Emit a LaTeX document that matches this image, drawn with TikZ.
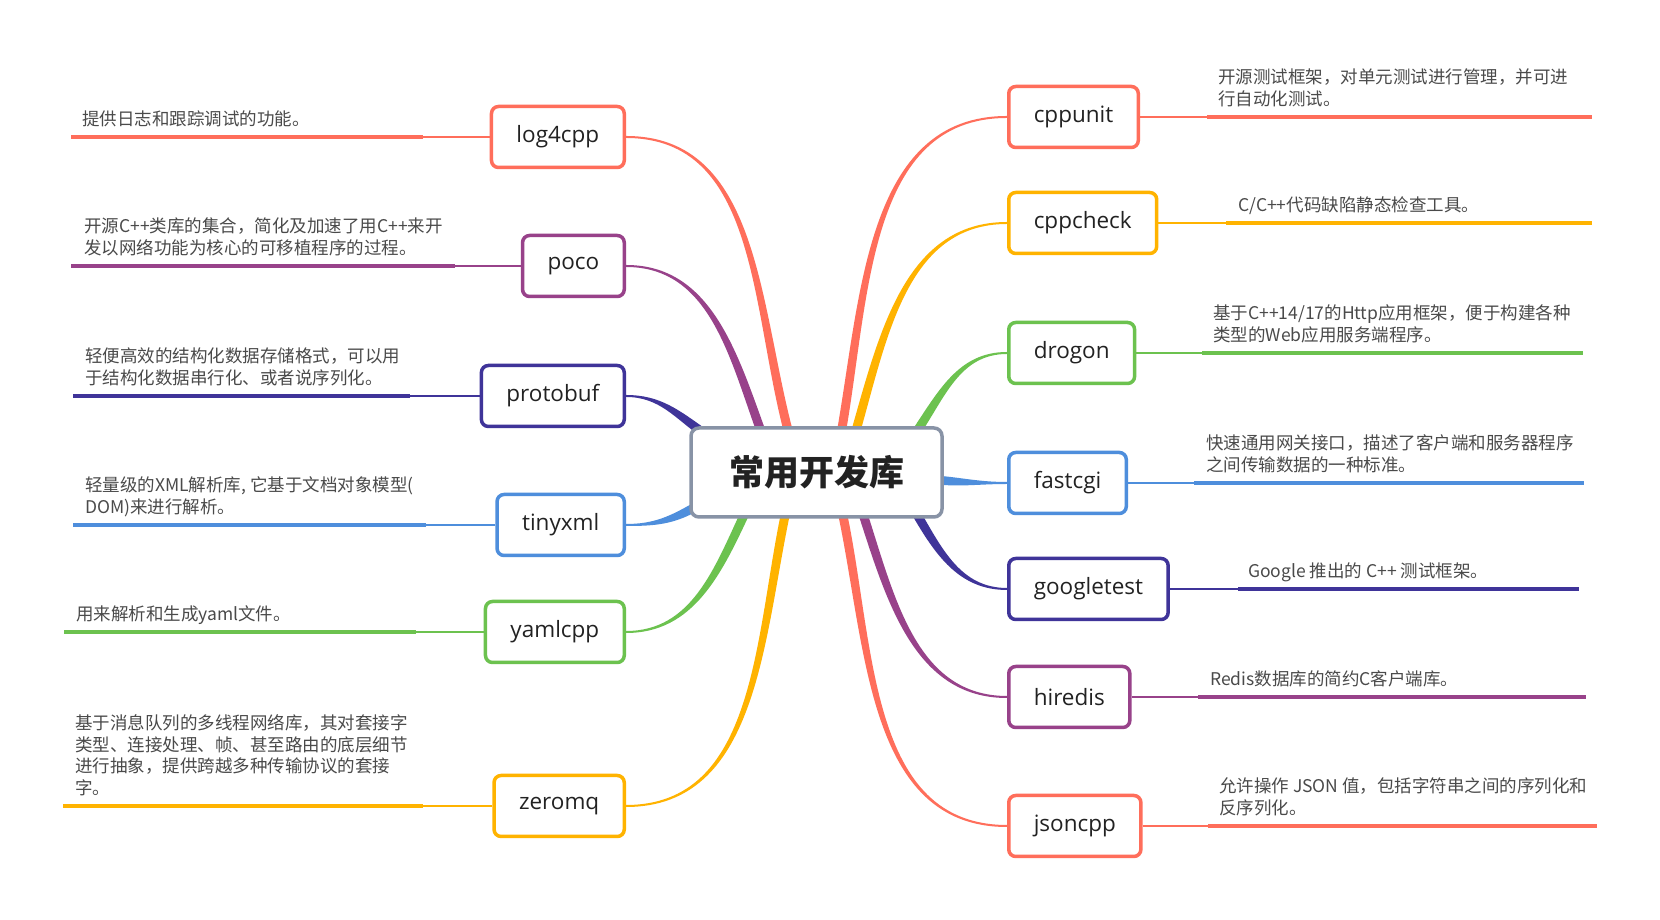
\documentclass[tikz,border=0pt]{standalone}
\usepackage{fontspec}
\usetikzlibrary{calc,backgrounds}

\newfontfamily\cjk{Noto Sans CJK SC}
\newfontfamily\labelfont{Open Sans}

\definecolor{mmred}{HTML}{FF6E5B}
\definecolor{mmorange}{HTML}{FFB300}
\definecolor{mmgreen}{HTML}{6CC24F}
\definecolor{mmblue}{HTML}{4E8EDC}
\definecolor{mmnavy}{HTML}{3F3499}
\definecolor{mmpurple}{HTML}{98428A}
\definecolor{mmgray}{HTML}{8893A6}
\definecolor{mmtext}{HTML}{222222}
\definecolor{mmdesc}{HTML}{4A4A4A}

% tapered branch: colour, start, out angle, end node anchor, in angle
\newcommand{\branch}[5]{%
  \fill[#1] ($(#2)+(#3+90:4.5pt)$) to[out=#3,in=#5] ($(#4)+(#5-90:1pt)$)
    -- ($(#4)+(#5+90:1pt)$) to[out=#5,in=#3] ($(#2)+(#3-90:4.5pt)$) -- cycle;}

\tikzset{
  topic/.style={draw=#1, line width=3.5pt, rounded corners=7pt, fill=white,
    minimum height=61pt, inner xsep=25pt, text=mmtext,
    font=\labelfont\fontsize{22.5}{26}\selectfont},
  root/.style={draw=mmgray, line width=3.5pt, rounded corners=8pt, fill=white,
    minimum width=251pt, minimum height=89pt, text=mmtext,
    font=\cjk\bfseries\fontsize{35}{40}\selectfont},
  desc/.style={anchor=south west, inner sep=0pt, align=left, text depth=0pt,
    text=mmdesc, font=\cjk\fontsize{17.5}{21.5}\selectfont},
  thinline/.style={line width=2pt},
  thickline/.style={line width=3.5pt}
}

\begin{document}
\begin{tikzpicture}[x=1pt, y=1pt]
  \useasboundingbox (0,0) rectangle (1660,920);

  % Root
  \node[root] (root) at (816.5,447.5) {常用开发库};

  % Left topics
  \node[topic=mmred, anchor=east] (log4cpp) at (626,783) {log4cpp};
  \node[topic=mmpurple, anchor=east] (poco) at (626,654) {poco};
  \node[topic=mmnavy, anchor=east] (protobuf) at (626,524) {protobuf};
  \node[topic=mmblue, anchor=east] (tinyxml) at (626,395) {tinyxml};
  \node[topic=mmgreen, anchor=east] (yamlcpp) at (626,288) {yamlcpp};
  \node[topic=mmorange, anchor=east] (zeromq) at (626,114) {zeromq};

  % Right topics
  \node[topic=mmred, anchor=west] (cppunit) at (1007,803) {cppunit};
  \node[topic=mmorange, anchor=west] (cppcheck) at (1007,697) {cppcheck};
  \node[topic=mmgreen, anchor=west] (drogon) at (1007,567) {drogon};
  \node[topic=mmblue, anchor=west] (fastcgi) at (1007,437) {fastcgi};
  \node[topic=mmnavy, anchor=west] (googletest) at (1007,331) {googletest};
  \node[topic=mmpurple, anchor=west] (hiredis) at (1007,223) {hiredis};
  \node[topic=mmred, anchor=west] (jsoncpp) at (1007,94) {jsoncpp};

  % Descriptions, left
  \node[desc] (log4cpp-d) at (82,794.5) {提供日志和跟踪调试的功能。};
  \node[desc] (poco-d) at (84,665.5) {开源C++类库的集合，简化及加速了用C++来开\\发以网络功能为核心的可移植程序的过程。};
  \node[desc] (protobuf-d) at (85,535.5) {轻便高效的结构化数据存储格式，可以用\\于结构化数据串行化、或者说序列化。};
  \node[desc] (tinyxml-d) at (85,406.5) {轻量级的XML解析库, 它基于文档对象模型(\\DOM)来进行解析。};
  \node[desc] (yamlcpp-d) at (76,299.5) {用来解析和生成yaml文件。};
  \node[desc] (zeromq-d) at (75,125.5) {基于消息队列的多线程网络库，其对套接字\\类型、连接处理、帧、甚至路由的底层细节\\进行抽象，提供跨越多种传输协议的套接\\字。};

  % Descriptions, right
  \node[desc] (cppunit-d) at (1218,814.5) {开源测试框架，对单元测试进行管理，并可进\\行自动化测试。};
  \node[desc] (cppcheck-d) at (1238,708.5) {C/C++代码缺陷静态检查工具。};
  \node[desc] (drogon-d) at (1213,578.5) {基于C++14/17的Http应用框架，便于构建各种\\类型的Web应用服务端程序。};
  \node[desc] (fastcgi-d) at (1206,448.5) {快速通用网关接口，描述了客户端和服务器程序\\之间传输数据的一种标准。};
  \node[desc] (googletest-d) at (1248,342.5) {Google 推出的 C++ 测试框架。};
  \node[desc] (hiredis-d) at (1210,234.5) {Redis数据库的简约C客户端库。};
  \node[desc] (jsoncpp-d) at (1219,105.5) {允许操作 JSON 值，包括字符串之间的序列化和\\反序列化。};

  % Branch start points under the root
  \coordinate (log4cpp-s) at (789,486);
  \coordinate (poco-s) at (762,486);
  \coordinate (protobuf-s) at (705,486);
  \coordinate (tinyxml-s) at (697,414);
  \coordinate (yamlcpp-s) at (746,409);
  \coordinate (zeromq-s) at (786,409);
  \coordinate (cppunit-s) at (841,486);
  \coordinate (cppcheck-s) at (855,486);
  \coordinate (drogon-s) at (915,486);
  \coordinate (fastcgi-s) at (936,440);
  \coordinate (googletest-s) at (915,409);
  \coordinate (hiredis-s) at (862,409);
  \coordinate (jsoncpp-s) at (842,409);

  % Underline ends
  \coordinate (log4cpp-k) at (423,783);   \coordinate (log4cpp-e) at (71,783);
  \coordinate (poco-k) at (455,654);      \coordinate (poco-e) at (71,654);
  \coordinate (protobuf-k) at (410,524);  \coordinate (protobuf-e) at (73,524);
  \coordinate (tinyxml-k) at (426,395);   \coordinate (tinyxml-e) at (73,395);
  \coordinate (yamlcpp-k) at (416,288);   \coordinate (yamlcpp-e) at (64,288);
  \coordinate (zeromq-k) at (423,114);    \coordinate (zeromq-e) at (63,114);
  \coordinate (cppunit-k) at (1207,803);  \coordinate (cppunit-e) at (1592,803);
  \coordinate (cppcheck-k) at (1226,697); \coordinate (cppcheck-e) at (1592,697);
  \coordinate (drogon-k) at (1202,567);   \coordinate (drogon-e) at (1583,567);
  \coordinate (fastcgi-k) at (1194,437);  \coordinate (fastcgi-e) at (1584,437);
  \coordinate (googletest-k) at (1238,331); \coordinate (googletest-e) at (1579,331);
  \coordinate (hiredis-k) at (1198,223);  \coordinate (hiredis-e) at (1586,223);
  \coordinate (jsoncpp-k) at (1208,94);   \coordinate (jsoncpp-e) at (1597,94);

  \begin{pgfonlayer}{background}
    \fill[white] (0,0) rectangle (1660,920);

    % Branches to the left
    \branch{mmred}{log4cpp-s}{105}{log4cpp.east}{0}
    \branch{mmpurple}{poco-s}{110}{poco.east}{0}
    \branch{mmnavy}{protobuf-s}{145}{protobuf.east}{0}
    \branch{mmblue}{tinyxml-s}{210}{tinyxml.east}{0}
    \branch{mmgreen}{yamlcpp-s}{245}{yamlcpp.east}{0}
    \branch{mmorange}{zeromq-s}{258}{zeromq.east}{0}

    % Branches to the right
    \branch{mmred}{cppunit-s}{80}{cppunit.west}{180}
    \branch{mmorange}{cppcheck-s}{74}{cppcheck.west}{180}
    \branch{mmgreen}{drogon-s}{56}{drogon.west}{180}
    \branch{mmblue}{fastcgi-s}{-5}{fastcgi.west}{180}
    \branch{mmnavy}{googletest-s}{-60}{googletest.west}{180}
    \branch{mmpurple}{hiredis-s}{-72}{hiredis.west}{180}
    \branch{mmred}{jsoncpp-s}{-78}{jsoncpp.west}{180}

    % Underlines
    \draw[thinline, mmred] (log4cpp.west) -- (log4cpp-k);
    \draw[thickline, mmred] (log4cpp-k) -- (log4cpp-e);
    \draw[thinline, mmpurple] (poco.west) -- (poco-k);
    \draw[thickline, mmpurple] (poco-k) -- (poco-e);
    \draw[thinline, mmnavy] (protobuf.west) -- (protobuf-k);
    \draw[thickline, mmnavy] (protobuf-k) -- (protobuf-e);
    \draw[thinline, mmblue] (tinyxml.west) -- (tinyxml-k);
    \draw[thickline, mmblue] (tinyxml-k) -- (tinyxml-e);
    \draw[thinline, mmgreen] (yamlcpp.west) -- (yamlcpp-k);
    \draw[thickline, mmgreen] (yamlcpp-k) -- (yamlcpp-e);
    \draw[thinline, mmorange] (zeromq.west) -- (zeromq-k);
    \draw[thickline, mmorange] (zeromq-k) -- (zeromq-e);

    \draw[thinline, mmred] (cppunit.east) -- (cppunit-k);
    \draw[thickline, mmred] (cppunit-k) -- (cppunit-e);
    \draw[thinline, mmorange] (cppcheck.east) -- (cppcheck-k);
    \draw[thickline, mmorange] (cppcheck-k) -- (cppcheck-e);
    \draw[thinline, mmgreen] (drogon.east) -- (drogon-k);
    \draw[thickline, mmgreen] (drogon-k) -- (drogon-e);
    \draw[thinline, mmblue] (fastcgi.east) -- (fastcgi-k);
    \draw[thickline, mmblue] (fastcgi-k) -- (fastcgi-e);
    \draw[thinline, mmnavy] (googletest.east) -- (googletest-k);
    \draw[thickline, mmnavy] (googletest-k) -- (googletest-e);
    \draw[thinline, mmpurple] (hiredis.east) -- (hiredis-k);
    \draw[thickline, mmpurple] (hiredis-k) -- (hiredis-e);
    \draw[thinline, mmred] (jsoncpp.east) -- (jsoncpp-k);
    \draw[thickline, mmred] (jsoncpp-k) -- (jsoncpp-e);
  \end{pgfonlayer}

\end{tikzpicture}
\end{document}
